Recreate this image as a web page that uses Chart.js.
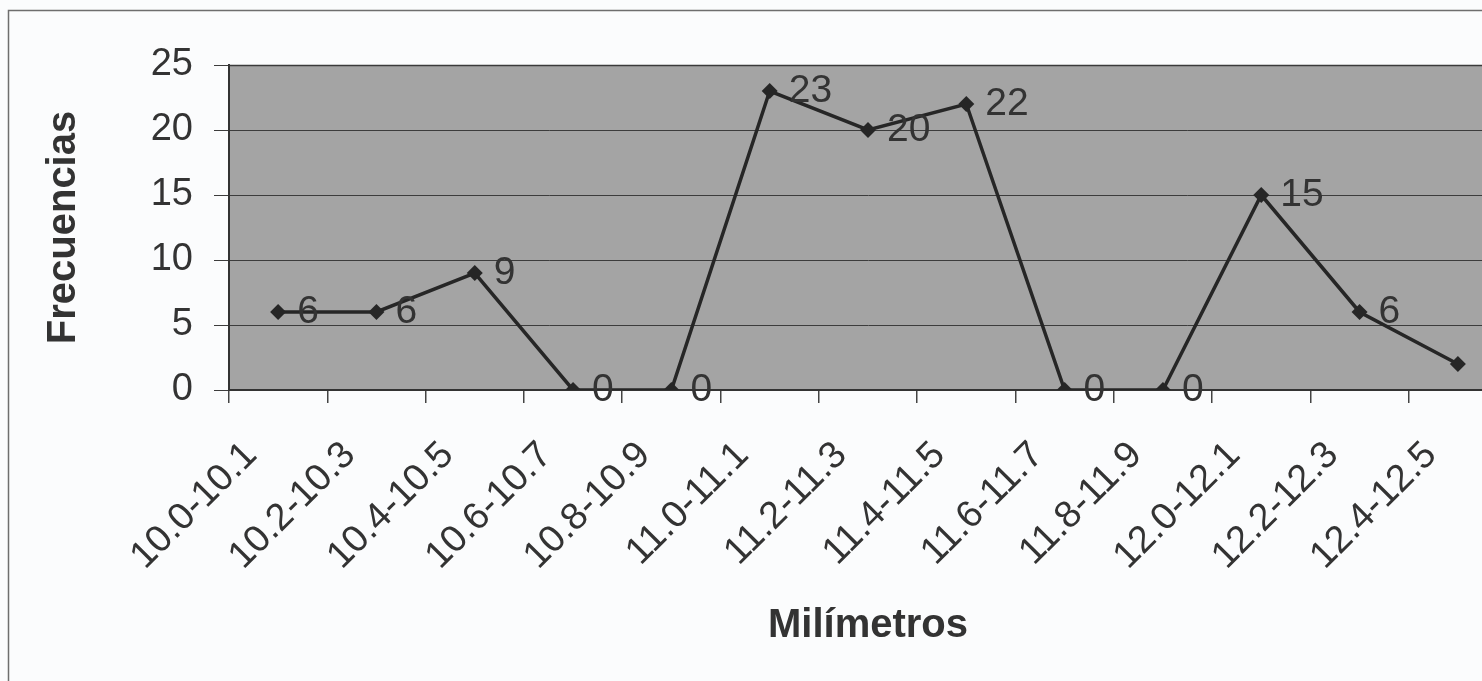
<!DOCTYPE html>
<html>
<head>
<meta charset="utf-8">
<script src="https://cdn.jsdelivr.net/npm/chart.js@4"></script>
<style>
  html, body { margin: 0; padding: 0; background: #fbfcfd; overflow: hidden; }
  #wrap { position: absolute; left: 0; top: 0; width: 1530px; height: 681px; }
</style>
</head>
<body>
<div id="wrap"><canvas id="freqChart" width="1530" height="681"></canvas></div>
<script>
const categories = ["10.0-10.1", "10.2-10.3", "10.4-10.5", "10.6-10.7", "10.8-10.9",
  "11.0-11.1", "11.2-11.3", "11.4-11.5", "11.6-11.7", "11.8-11.9",
  "12.0-12.1", "12.2-12.3", "12.4-12.5"];
const frecuencias = [6, 6, 9, 0, 0, 23, 20, 22, 0, 0, 15, 6, 2];
const yTicks = [0, 5, 10, 15, 20, 25];

const textColor = "#333333";
const lineColor = "#262626";
const font = "'Liberation Sans', Arial, sans-serif";

// background, outer frame, grey plot area
const framePlugin = {
  id: "frame",
  beforeDraw(chart) {
    const { ctx, chartArea: a } = chart;
    ctx.save();
    ctx.fillStyle = "#fbfcfd";
    ctx.fillRect(0, 0, chart.width, chart.height);
    ctx.strokeStyle = "#6e6e6e";
    ctx.lineWidth = 1.5;
    ctx.strokeRect(8.5, 10.5, chart.width, chart.height);
    ctx.fillStyle = "#a4a4a4";
    ctx.fillRect(a.left, a.top, a.right - a.left, a.bottom - a.top);
    ctx.restore();
  },
  afterDatasetsDraw(chart) {
    const { ctx, chartArea: a } = chart;
    ctx.save();
    ctx.strokeStyle = "#3a3a3a";
    ctx.lineWidth = 1.5;
    ctx.beginPath();
    ctx.moveTo(a.left, a.top + 0.5);
    ctx.lineTo(a.right, a.top + 0.5);
    ctx.stroke();

    // value labels to the right of each point (last one is cut off in the original)
    const meta = chart.getDatasetMeta(0);
    ctx.fillStyle = textColor;
    ctx.font = "39px " + font;
    ctx.textAlign = "left";
    ctx.textBaseline = "middle";
    meta.data.forEach((pt, i) => {
      if (i === meta.data.length - 1) return;
      ctx.fillText(String(frecuencias[i]), pt.x + 19, pt.y);
    });
    ctx.restore();
  }
};

new Chart(document.getElementById("freqChart"), {
  type: "line",
  data: {
    labels: categories,
    datasets: [{
      data: frecuencias,
      borderColor: lineColor,
      borderWidth: 3.5,
      backgroundColor: lineColor,
      pointStyle: "rectRot",
      pointRadius: 8,
      pointBorderWidth: 0,
      tension: 0,
      fill: false
    }]
  },
  options: {
    responsive: false,
    animation: false,
    layout: { padding: { top: 65, right: 23, left: 0, bottom: 0 } },
    plugins: {
      legend: { display: false },
      tooltip: { enabled: false }
    },
    scales: {
      x: {
        offset: true,
        grid: {
          offset: true,
          drawOnChartArea: false,
          drawTicks: true,
          tickLength: 13,
          color: "#444444",
          lineWidth: 1.5
        },
        border: { color: "#333333", width: 2 },
        ticks: {
          autoSkip: false,
          minRotation: 45,
          maxRotation: 45,
          padding: 30,
          labelOffset: -27,
          color: textColor,
          font: { family: font, size: 38 }
        },
        title: {
          display: true,
          text: "Milímetros",
          color: textColor,
          font: { family: font, size: 40, weight: "bold" },
          padding: { top: 0, bottom: 31 }
        },
        afterFit(scale) { scale.height = 291; }
      },
      y: {
        min: 0,
        max: 25,
        afterBuildTicks(scale) { scale.ticks = yTicks.map(v => ({ value: v })); },
        grid: {
          color: "#3c3c3c",
          lineWidth: 1,
          tickLength: 15
        },
        border: { color: "#333333", width: 2 },
        ticks: {
          padding: 21,
          color: textColor,
          font: { family: font, size: 38 }
        },
        title: {
          display: true,
          text: "Frecuencias",
          color: textColor,
          font: { family: font, size: 40, weight: "bold" },
          padding: { top: 40, bottom: 0 }
        },
        afterFit(scale) { scale.width = 229; }
      }
    }
  },
  plugins: [framePlugin]
});
</script>
</body>
</html>
